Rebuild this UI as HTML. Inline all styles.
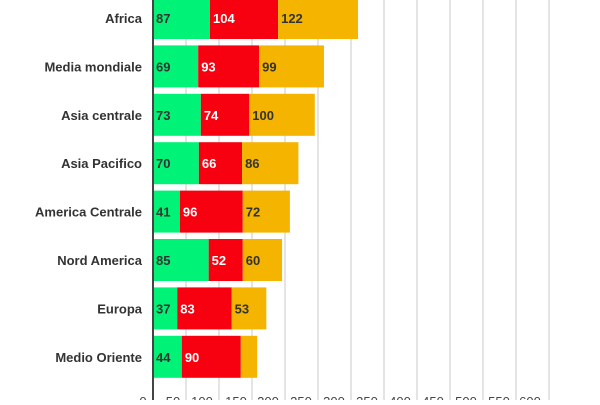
<!DOCTYPE html>
<html><head><style>
body{margin:0;width:600px;height:400px;overflow:hidden;background:#fff;font-family:"Liberation Sans",sans-serif;}
</style></head><body>
<svg width="600" height="400" xmlns="http://www.w3.org/2000/svg" font-family="Liberation Sans, sans-serif">
<g stroke="#c8c8c8" stroke-width="1">
<line x1="186" y1="0" x2="186" y2="400"/><line x1="219" y1="0" x2="219" y2="400"/><line x1="252" y1="0" x2="252" y2="400"/><line x1="285" y1="0" x2="285" y2="400"/><line x1="318" y1="0" x2="318" y2="400"/><line x1="351" y1="0" x2="351" y2="400"/><line x1="384" y1="0" x2="384" y2="400"/><line x1="417" y1="0" x2="417" y2="400"/><line x1="450" y1="0" x2="450" y2="400"/><line x1="483" y1="0" x2="483" y2="400"/><line x1="516" y1="0" x2="516" y2="400"/><line x1="549" y1="0" x2="549" y2="400"/>
</g>
<g id="bars" font-size="13"></g>
<line x1="153" y1="0" x2="153" y2="400" stroke="#444" stroke-width="2"/>
<g font-size="13" fill="#444" text-anchor="middle">
<text x="143" y="406">0</text><text x="173" y="406">50</text><text x="202" y="406">100</text><text x="236" y="406">150</text><text x="268" y="406">200</text><text x="301" y="406">250</text><text x="334" y="406">300</text><text x="367" y="406">350</text><text x="400" y="406">400</text><text x="433" y="406">450</text><text x="466" y="406">500</text><text x="499" y="406">550</text><text x="530" y="406">600</text>
</g>
</svg>
<script>
var d=[["Africa",87,104,122],["Media mondiale",69,93,99],["Asia centrale",73,74,100],["Asia Pacifico",70,66,86],["America Centrale",41,96,72],["Nord America",85,52,60],["Europa",37,83,53],["Medio Oriente",44,90,null]];
var s=0.655,g=document.getElementById("bars"),h="";
d.forEach(function(r,i){var cy=18+i*48.4,y=cy-21,x=153;
var cols=["#00f276","#f7000f","#f5b400"],tc=["#333","#fff","#333"];
var vals=[r[1],r[2],r[3]===null?25:r[3]];
for(var k=0;k<3;k++){var w=vals[k]*s;h+='<rect x="'+x+'" y="'+y+'" width="'+w+'" height="42" fill="'+cols[k]+'"/>';
if(!(k==2&&r[3]===null))h+='<text x="'+(x+3)+'" y="'+(cy+5)+'" fill="'+tc[k]+'" font-weight="bold" style="font-weight:600">'+vals[k]+'</text>';x+=w;}
h+='<text x="142" y="'+(cy+5)+'" text-anchor="end" fill="#333" font-weight="bold">'+r[0]+'</text>';});
g.innerHTML=h;
</script>
</body></html>
